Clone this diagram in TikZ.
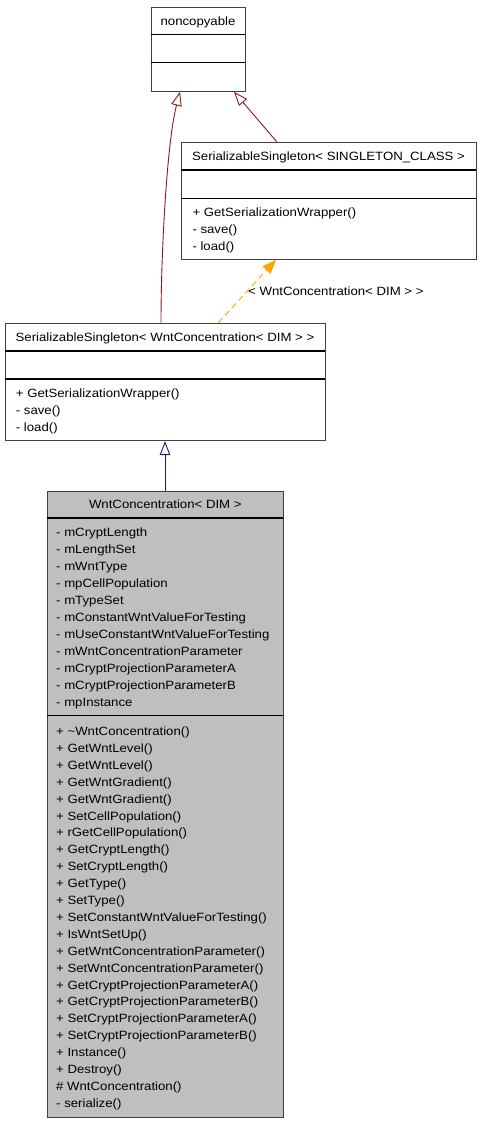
\documentclass[tikz,border=0pt]{standalone}
\usepackage{fontspec}
\setmainfont{Liberation Sans}[FakeStretch=1.1]
\usetikzlibrary{arrows.meta,calc}
\definecolor{boxline}{HTML}{404040}
\definecolor{inhred}{HTML}{8B1A1A}
\definecolor{inhblue}{HTML}{191970}
\definecolor{tmplorange}{HTML}{FFA500}
\definecolor{classfill}{HTML}{BFBFBF}
\begin{document}
\begin{tikzpicture}[x=1pt,y=-1pt,
  umlbox/.style={draw=boxline, line width=1.1pt, fill=white, inner sep=0pt, anchor=north west},
  divider/.style={draw=black, line width=1.5pt},
  txt/.style={inner sep=0pt, font=\fontsize{12}{17}\selectfont, anchor=base},
  ltxt/.style={txt, anchor=base west},
  inh/.style={line width=0.9pt, -{Triangle[open, length=14pt, width=10.5pt, line width=0.9pt]}},
  tmpl/.style={line width=0.9pt, draw=tmplorange, dash pattern=on 6pt off 4pt, -{Triangle[length=14pt, width=11pt, fill=tmplorange]}}]
\useasboundingbox (0,0) rectangle (480,1123);
\fill[white] (0,0) rectangle (480,1123);

% noncopyable
\node[umlbox, minimum width=94.6pt, minimum height=84pt] (nc) at (150.7,6.7) {};
\draw[divider] (150.7,34.3) -- (245.3,34.3);
\draw[divider] (150.7,62.7) -- (245.3,62.7);
\node[txt] (nct) at (198,25.7) {noncopyable};

% SerializableSingleton< SINGLETON_CLASS >
\node[umlbox, minimum width=295pt, minimum height=117pt] (ssc) at (181,141.7) {};
\draw[divider] (181,170) -- (476,170);
\draw[divider] (181,198.3) -- (476,198.3);
\node[txt] (ssct) at (328.5,160.7) {SerializableSingleton< SINGLETON\_CLASS >};
\node[ltxt] (sscm0) at (192.3,216.7) {+ GetSerializationWrapper()};
\node[ltxt] (sscm1) at (192.3,233.5) {- save()};
\node[ltxt] (sscm2) at (192.3,250.3) {- load()};

% SerializableSingleton< WntConcentration< DIM > >
\node[umlbox, minimum width=320.3pt, minimum height=117.3pt] (ssw) at (4.7,322.7) {};
\draw[divider] (4.7,351) -- (325,351);
\draw[divider] (4.7,379) -- (325,379);
\node[txt] (sswt) at (165,341.7) {SerializableSingleton< WntConcentration< DIM > >};
\node[ltxt] (sswm0) at (15.7,397.7) {+ GetSerializationWrapper()};
\node[ltxt] (sswm1) at (15.7,414.5) {- save()};
\node[ltxt] (sswm2) at (15.7,431.3) {- load()};

% WntConcentration< DIM >
\node[umlbox, fill=classfill, minimum width=236pt, minimum height=626pt] (wc) at (47.3,490.7) {};
\draw[divider] (47.3,518) -- (283.3,518);
\draw[divider] (47.3,715.7) -- (283.3,715.7);
\node[txt] (wct) at (165.3,508.3) {WntConcentration< DIM >};
\foreach \t [count=\i from 0] in {- mCryptLength, - mLengthSet, - mWntType, - mpCellPopulation, - mTypeSet, - mConstantWntValueForTesting, - mUseConstantWntValueForTesting, - mWntConcentrationParameter, - mCryptProjectionParameterA, - mCryptProjectionParameterB, - mpInstance}
  \node[ltxt] (wca\i) at (56,{536+17*\i}) {\t};
\foreach \t [count=\i from 0] in {+ \textasciitilde WntConcentration(), + GetWntLevel(), + GetWntLevel(), + GetWntGradient(), + GetWntGradient(), + SetCellPopulation(), + rGetCellPopulation(), + GetCryptLength(), + SetCryptLength(), + GetType(), + SetType(), + SetConstantWntValueForTesting(), + IsWntSetUp(), + GetWntConcentrationParameter(), + SetWntConcentrationParameter(), + GetCryptProjectionParameterA(), + GetCryptProjectionParameterB(), + SetCryptProjectionParameterA(), + SetCryptProjectionParameterB(), + Instance(), + Destroy(), \# WntConcentration(), - serialize()}
  \node[ltxt] (wcm\i) at (56,{735.5+16.9*\i}) {\t};

% connectors
\draw[inh, draw=inhred] ($(ssw.north west)+(156.3,0)$) .. controls ($(ssw.north west)+(156.3,-72)$) and ($(nc.south west)+(16.3,50)$) .. ($(nc.south west)+(29.3,0)$);
\draw[inh, draw=inhred] ($(ssc.north west)+(95.7,0)$) -- ($(nc.south west)+(83.3,0)$);
\draw[tmpl] ($(ssw.north west)+(213.6,0)$) -- ($(ssc.south west)+(95,0)$);
\node[ltxt] (tlabel) at (248,295) {< WntConcentration< DIM > >};
\draw[inh, draw=inhblue] ($(wc.north west)+(117.7,0)$) -- ($(ssw.south west)+(160.3,0)$);
\end{tikzpicture}
\end{document}
